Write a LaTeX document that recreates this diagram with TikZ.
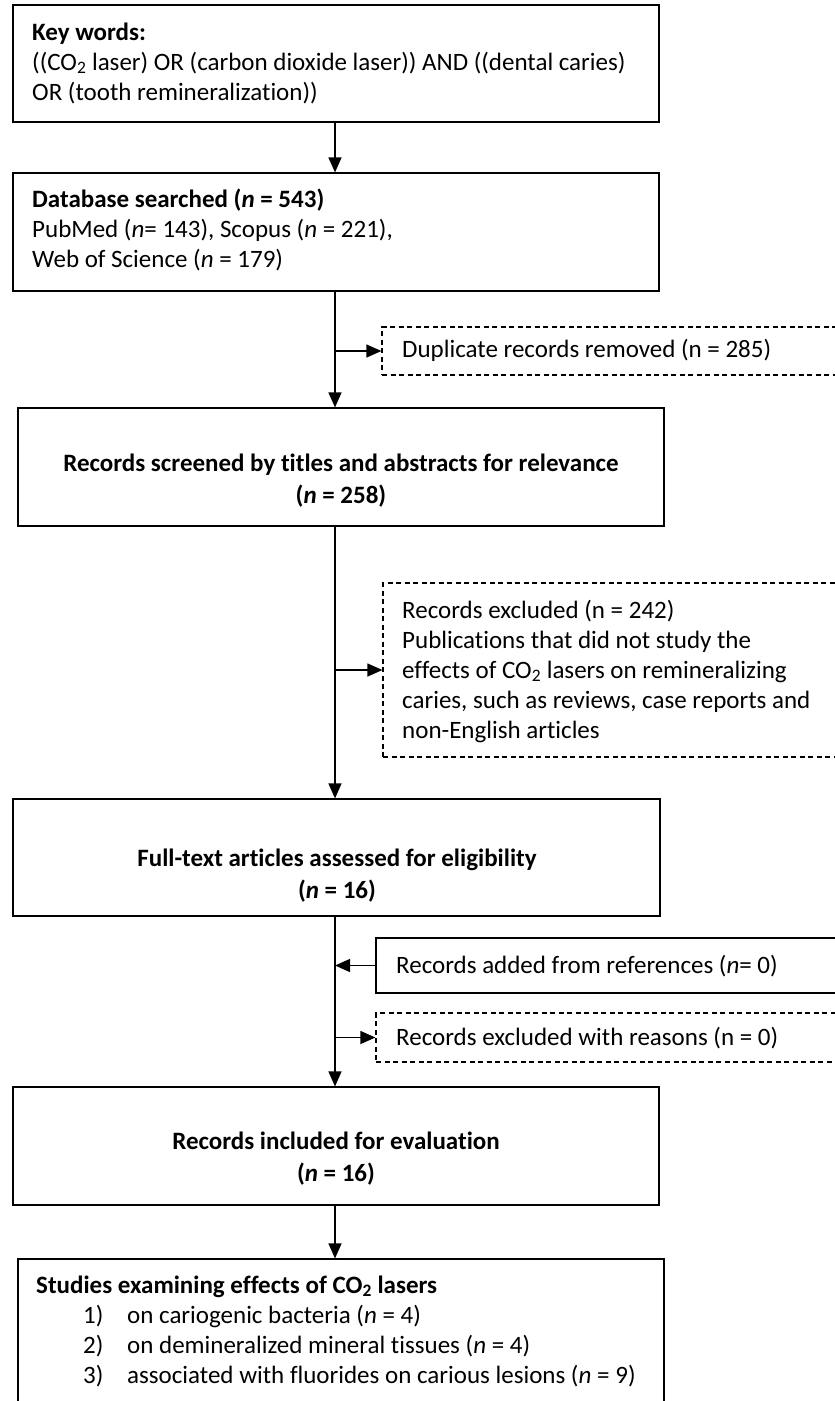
\documentclass[tikz,border=0pt]{standalone}
\usepackage{fontspec}
\setmainfont{Carlito}[Ligatures=NoCommon]
\usetikzlibrary{arrows.meta}
\begin{document}
\begin{tikzpicture}[x=1pt,y=-1pt,
  box/.style={draw=black,line width=1.2pt,rectangle,inner sep=0pt},
  dbox/.style={box,dash pattern=on 5pt off 3.5pt},
  txt/.style={inner sep=0pt,font=\fontsize{25}{30}\selectfont},
  ltxt/.style={txt,align=left,anchor=west},
  ctxt/.style={txt,align=center,font=\fontsize{25}{32}\selectfont\bfseries},
  arr/.style={line width=1.2pt,-{Triangle[length=15pt,width=13pt]}}]
\useasboundingbox (0,0) rectangle (835,1401);
\clip (0,0) rectangle (835,1401);
\coordinate (spine) at (335,0);
% main boxes
\node[box,minimum width=646pt,minimum height=117pt] (kw) at (336,63.5) {};
\node[box,minimum width=646pt,minimum height=118pt] (db) at (336,232) {};
\node[box,minimum width=646pt,minimum height=118pt] (scr) at (341,467) {};
\node[box,minimum width=647pt,minimum height=117pt] (full) at (336.5,857.5) {};
\node[box,minimum width=646pt,minimum height=118pt] (incl) at (336,1146) {};
\node[box,minimum width=646pt,minimum height=181pt] (stud) at (341,1349.5) {};
% side boxes
\node[dbox,minimum width=518pt,minimum height=48pt] (dup) at (641,351) {};
\node[dbox,minimum width=517pt,minimum height=174pt] (excl) at (641.5,670) {};
\node[box,minimum width=524pt,minimum height=55pt] (add) at (638,965.5) {};
\node[dbox,minimum width=524pt,minimum height=49pt] (exr) at (638,1037.5) {};
% texts
\node[ltxt] (kwt) at (32,63) {\textbf{Key words:}\\((CO\textsubscript{2} laser) OR (carbon dioxide laser)) AND ((dental caries)\\OR (tooth remineralization))};
\node[ltxt] (dbt) at (32,230) {\textbf{Database searched (\textit{n} = 543)}\\PubMed (\textit{n}= 143), Scopus (\textit{n} = 221),\\Web of Science (\textit{n} = 179)};
\node[ctxt] (scrt) at (341,481) {Records screened by titles and abstracts for relevance\\(\textit{n} = 258)};
\node[ltxt] (dupt) at (402,350) {Duplicate records removed (n = 285)};
\node[ltxt] (exclt) at (402,671) {Records excluded (n = 242)\\Publications that did not study the\\effects of CO\textsubscript{2} lasers on remineralizing\\caries, such as reviews, case reports and\\non-English articles};
\node[ctxt] (fullt) at (337,876) {Full-text articles assessed for eligibility\\(\textit{n} = 16)};
\node[ltxt] (addt) at (396,966) {Records added from references (\textit{n}= 0)};
\node[ltxt] (exrt) at (396,1038) {Records excluded with reasons (n = 0)};
\node[ctxt] (inclt) at (336,1159) {Records included for evaluation\\(\textit{n} = 16)};
\node[ltxt] (studt) at (36,1331) {\textbf{Studies examining effects of CO\textsubscript{2} lasers}\\
\hspace*{47pt}\makebox[44pt][l]{1)}on cariogenic bacteria (\textit{n} = 4)\\
\hspace*{47pt}\makebox[44pt][l]{2)}on demineralized mineral tissues (\textit{n} = 4)\\
\hspace*{47pt}\makebox[44pt][l]{3)}associated with fluorides on carious lesions (\textit{n} = 9)};
% connectors
\draw[arr] (kw.south -| spine) -- (db.north -| spine);
\draw[arr] (db.south -| spine) -- (scr.north -| spine);
\draw[arr] (scr.south -| spine) -- (full.north -| spine);
\draw[arr] (full.south -| spine) -- (incl.north -| spine);
\draw[arr] (incl.south -| spine) -- (stud.north -| spine);
\draw[arr] (dup.west -| spine) -- (dup.west);
\draw[arr] (excl.west -| spine) -- (excl.west);
\draw[arr] (add.west) -- (add.west -| spine);
\draw[arr] (exr.west -| spine) -- (exr.west);
\end{tikzpicture}
\end{document}
